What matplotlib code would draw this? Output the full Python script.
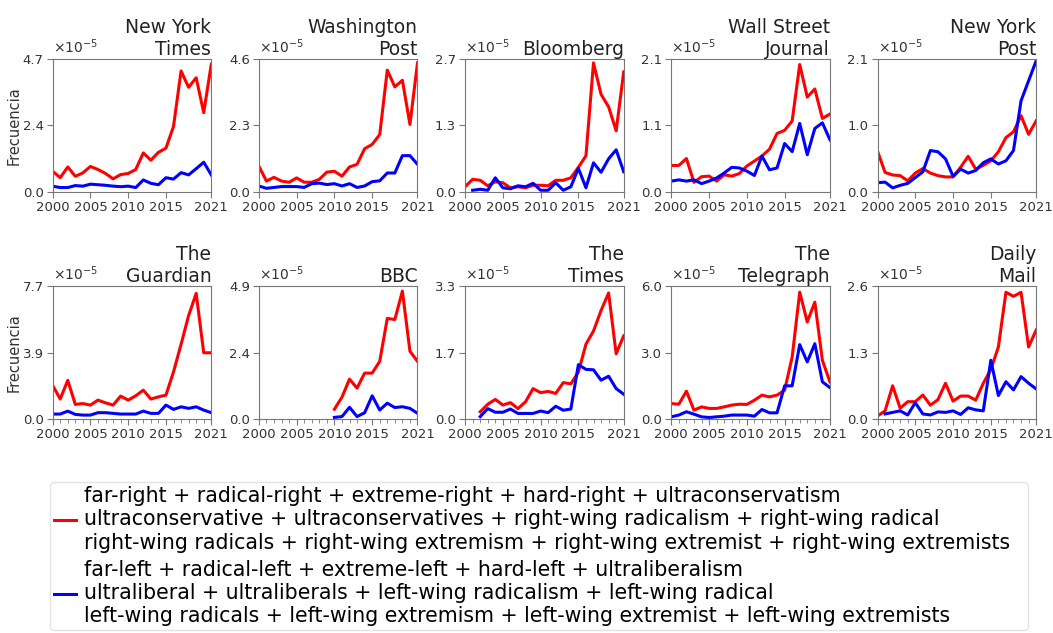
import numpy as np
import matplotlib
matplotlib.use("Agg")
import matplotlib.pyplot as plt
from matplotlib.lines import Line2D

# values in units of 1e-5, one list per outlet, starting at first year with data
titles = ["New York\nTimes", "Washington\nPost", "Bloomberg", "Wall Street\nJournal", "New York\nPost",
          "The\nGuardian", "BBC", "The\nTimes", "The\nTelegraph", "Daily\nMail"]

right_start = [2000, 2000, 2000, 2000, 2000, 2000, 2010, 2002, 2000, 2000]
left_start = [2000, 2000, 2001, 2000, 2000, 2000, 2010, 2002, 2000, 2001]

right_nyt = [0.73, 0.5, 0.88, 0.55, 0.67, 0.9, 0.79, 0.65, 0.46, 0.61, 0.65, 0.79, 1.38, 1.12, 1.4, 1.55, 2.32, 4.29, 3.71, 4.05, 2.81, 4.53]
left_nyt = [0.2, 0.15, 0.15, 0.22, 0.2, 0.27, 0.25, 0.23, 0.2, 0.18, 0.2, 0.15, 0.42, 0.3, 0.25, 0.5, 0.45, 0.68, 0.6, 0.82, 1.05, 0.6]

right_wapo = [0.89, 0.37, 0.5, 0.37, 0.33, 0.48, 0.33, 0.33, 0.43, 0.68, 0.71, 0.54, 0.86, 0.95, 1.49, 1.64, 1.98, 4.21, 3.63, 3.86, 2.33, 4.46]
left_wapo = [0.2, 0.12, 0.15, 0.18, 0.18, 0.18, 0.15, 0.28, 0.3, 0.25, 0.28, 0.2, 0.28, 0.15, 0.2, 0.35, 0.38, 0.65, 0.65, 1.25, 1.25, 0.95]

right_bloom = [0.1, 0.25, 0.23, 0.12, 0.2, 0.18, 0.08, 0.1, 0.08, 0.13, 0.13, 0.12, 0.23, 0.23, 0.28, 0.49, 0.72, 2.58, 1.95, 1.7, 1.22, 2.4]
left_bloom = [0.03, 0.05, 0.03, 0.28, 0.08, 0.06, 0.12, 0.1, 0.17, 0.03, 0.03, 0.18, 0.03, 0.1, 0.47, 0.08, 0.58, 0.39, 0.66, 0.84, 0.4]

right_wsj = [0.42, 0.42, 0.53, 0.15, 0.24, 0.25, 0.17, 0.27, 0.25, 0.29, 0.41, 0.49, 0.57, 0.68, 0.93, 0.98, 1.13, 2.03, 1.51, 1.64, 1.17, 1.24]
left_wsj = [0.17, 0.19, 0.17, 0.19, 0.13, 0.17, 0.22, 0.3, 0.39, 0.38, 0.33, 0.26, 0.57, 0.35, 0.38, 0.77, 0.64, 1.09, 0.59, 1.01, 1.1, 0.83]

right_nypost = [0.63, 0.3, 0.26, 0.25, 0.17, 0.29, 0.36, 0.29, 0.25, 0.23, 0.23, 0.38, 0.55, 0.35, 0.41, 0.48, 0.62, 0.84, 0.93, 1.18, 0.89, 1.1]
left_nypost = [0.14, 0.15, 0.06, 0.1, 0.13, 0.22, 0.31, 0.64, 0.62, 0.51, 0.24, 0.35, 0.29, 0.33, 0.45, 0.51, 0.43, 0.48, 0.64, 1.41, 1.72, 2.03]

right_guardian = [1.96, 1.16, 2.25, 0.85, 0.9, 0.81, 1.1, 0.94, 0.81, 1.33, 1.1, 1.35, 1.68, 1.16, 1.29, 1.39, 2.74, 4.34, 6.01, 7.3, 3.85, 3.85]
left_guardian = [0.29, 0.29, 0.46, 0.27, 0.23, 0.23, 0.37, 0.37, 0.33, 0.29, 0.29, 0.29, 0.46, 0.33, 0.33, 0.81, 0.56, 0.71, 0.62, 0.71, 0.52, 0.37]

right_bbc = [0.36, 0.8, 1.46, 1.13, 1.68, 1.68, 2.11, 3.68, 3.64, 4.68, 2.48, 2.11]
left_bbc = [0.06, 0.09, 0.43, 0.09, 0.23, 0.85, 0.33, 0.58, 0.42, 0.45, 0.39, 0.21]

right_times = [0.18, 0.37, 0.49, 0.35, 0.41, 0.26, 0.43, 0.76, 0.66, 0.69, 0.64, 0.91, 0.88, 1.17, 1.87, 2.2, 2.71, 3.15, 1.63, 2.08]
left_times = [0.06, 0.26, 0.17, 0.17, 0.25, 0.14, 0.14, 0.14, 0.2, 0.16, 0.32, 0.22, 0.25, 1.36, 1.24, 1.23, 0.97, 1.07, 0.76, 0.62]

right_telegraph = [0.7, 0.67, 1.26, 0.4, 0.55, 0.48, 0.48, 0.55, 0.63, 0.67, 0.66, 0.85, 1.08, 1.0, 1.08, 1.3, 2.8, 5.73, 4.38, 5.28, 2.65, 1.68]
left_telegraph = [0.1, 0.18, 0.33, 0.22, 0.1, 0.07, 0.1, 0.13, 0.18, 0.18, 0.18, 0.13, 0.43, 0.28, 0.28, 1.5, 1.5, 3.36, 2.58, 3.4, 1.68, 1.42]

right_mail = [0.06, 0.16, 0.65, 0.21, 0.34, 0.34, 0.47, 0.27, 0.38, 0.7, 0.35, 0.45, 0.45, 0.37, 0.7, 0.97, 1.41, 2.48, 2.4, 2.48, 1.41, 1.74]
left_mail = [0.1, 0.13, 0.16, 0.08, 0.32, 0.1, 0.08, 0.14, 0.13, 0.16, 0.09, 0.22, 0.18, 0.16, 1.15, 0.46, 0.73, 0.57, 0.83, 0.7, 0.59]

right_series = [right_nyt, right_wapo, right_bloom, right_wsj, right_nypost,
                right_guardian, right_bbc, right_times, right_telegraph, right_mail]
left_series = [left_nyt, left_wapo, left_bloom, left_wsj, left_nypost,
               left_guardian, left_bbc, left_times, left_telegraph, left_mail]

# upper y limit of each panel (units of 1e-5)
y_top = [4.72, 4.6, 2.66, 2.12, 2.06, 7.72, 4.86, 3.32, 6.0, 2.6]

right_label = ("far-right + radical-right + extreme-right + hard-right + ultraconservatism\n"
               "ultraconservative + ultraconservatives + right-wing radicalism + right-wing radical\n"
               "right-wing radicals + right-wing extremism + right-wing extremist + right-wing extremists")
left_label = ("far-left + radical-left + extreme-left + hard-left + ultraliberalism\n"
              "ultraliberal + ultraliberals + left-wing radicalism + left-wing radical\n"
              "left-wing radicals + left-wing extremism + left-wing extremist + left-wing extremists")

fig, axes = plt.subplots(2, 5, figsize=(10.53, 6.33), dpi=100)
plt.subplots_adjust(left=0.050, right=0.984, top=0.907, bottom=0.338, wspace=0.30, hspace=0.71)

spine_col = "#777777"
for i, ax in enumerate(axes.flat):
    r = right_series[i]
    l = left_series[i]
    ax.plot(np.arange(right_start[i], right_start[i] + len(r)), r, color="red", lw=2.2)
    ax.plot(np.arange(left_start[i], left_start[i] + len(l)), l, color="blue", lw=2.2)

    ax.set_xlim(2000, 2021)
    ax.set_xticks([2000, 2005, 2010, 2015, 2021])
    if i >= 5:
        ax.set_xticks(np.arange(2000, 2022), minor=True)
    top = y_top[i]
    ax.set_ylim(0, top)
    yt = [0, top / 2, top]
    ax.set_yticks(yt)
    ax.set_yticklabels([f"{v:.1f}" for v in yt])
    ax.tick_params(axis="both", labelsize=9.5, colors="#333333", length=4, pad=2.5)
    ax.tick_params(axis="x", which="minor", length=3, colors=spine_col)
    ax.tick_params(axis="both", which="major", color=spine_col)
    for s in ax.spines.values():
        s.set_color(spine_col)
    ax.text(0.0, 1.02, r"$\times10^{-5}$", transform=ax.transAxes, fontsize=10,
            color="#333333", ha="left", va="bottom")
    ax.set_title(titles[i], loc="right", fontsize=13.5, color="#222222", pad=3)
    if i % 5 == 0:
        ax.set_ylabel("Frecuencia", fontsize=10.5, color="#333333", labelpad=0.5)

handles = [Line2D([], [], color="red", lw=2.2), Line2D([], [], color="blue", lw=2.2)]
fig.legend(handles, [right_label, left_label], loc="upper left",
           bbox_to_anchor=(0.0475, 0.0, 0.929, 0.2385), mode="expand", borderaxespad=0,
           fontsize=14.8, handlelength=1.05, handletextpad=0.4, labelspacing=0.35,
           frameon=True, edgecolor="#dddddd", fancybox=True, borderpad=0.2)

fig.savefig("out.png", dpi=100)
